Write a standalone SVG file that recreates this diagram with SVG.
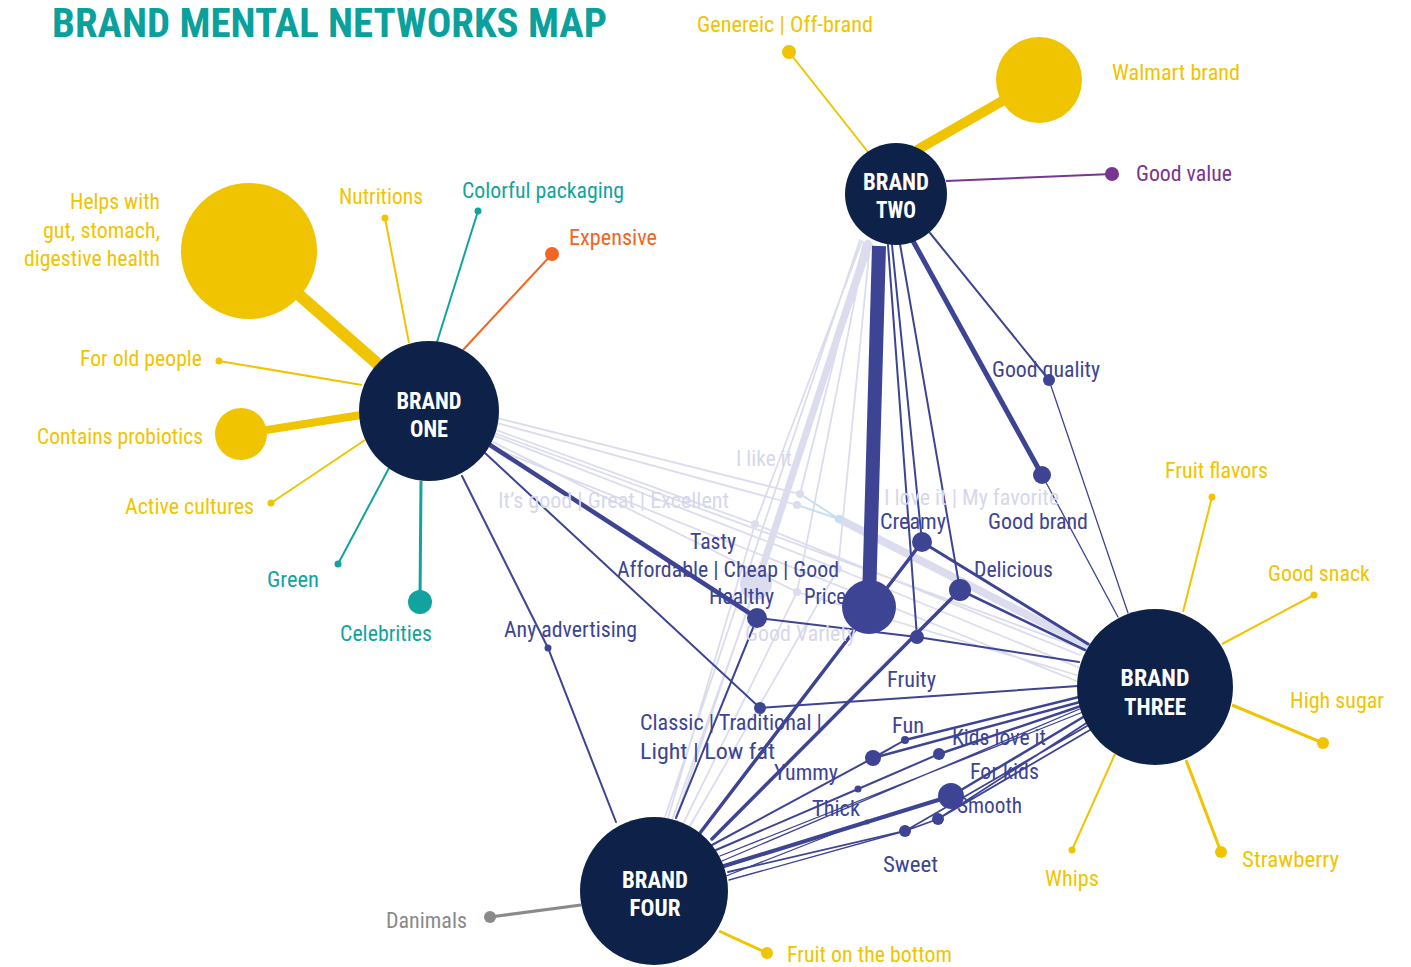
<svg xmlns="http://www.w3.org/2000/svg" width="1411" height="967" viewBox="0 0 1411 967">
<style>
text{font-family:"Liberation Sans Narrow","Roboto Condensed","Liberation Sans",Arial,sans-serif;font-size:22px}
.t{font-size:40px;font-weight:bold;fill:#0aa19c}
.b{font-size:23px;font-weight:bold;fill:#fff;text-anchor:middle}
.y{fill:#f0c400}.tl{fill:#12a39f}.o{fill:#f26522}.p{fill:#7a358f}.g{fill:#8a8a8a}.bl{fill:#3d4494}.lt{fill:#d7d7ec}
.ls{stroke:#dcdcef;fill:none;stroke-linecap:round}
.lb{stroke:#c7dff0;fill:none}
.bs{stroke:#3d4494;fill:none;stroke-linecap:round}
.ys{stroke:#f0c400;fill:none}
.ts{stroke:#12a39f;fill:none}
.nav{fill:#0e2249}
.dot{fill:#3d4494}.ld{fill:#dcdcef}
</style>
<rect width="1411" height="967" fill="#fff"/>
<text class="t" x="52" y="37" textLength="555" lengthAdjust="spacingAndGlyphs">BRAND MENTAL NETWORKS MAP</text>

<g id="connectors">
<g class="ls" stroke-width="1.8">
<path d="M497 418L800 494M497 423L797 505M496 430L755 524L1080 655M495 436L838 569L1080 668M493 442L797 592L1080 676M494 433L1080 648M491 447L1079 682"/>
<path d="M864 242L800 494M862 241L755 524L668 818M866 243L797 592L684 822M870 244L838 569L690 826M872 244L676 818M860 240L664 820M757 584L672 820"/>
<path d="M868 243L757 584" stroke-width="7"/>
<path d="M839 519L1086 645" stroke-width="8"/>
</g>
<path class="lb" stroke-width="2" d="M800 494L839 519M797 505L839 519"/>

<path class="ys" stroke-width="12" d="M380 366L249 251"/>
<path class="ys" stroke-width="2" d="M409 343L385 218M362 385L219 361M365 440L271 503"/>
<path class="ys" stroke-width="8" d="M361 415L241 434"/>
<path class="ts" stroke-width="2" d="M437 342L478 211M389 468L338 564"/>
<path class="ts" stroke-width="3" d="M421 481L420 602"/>
<path stroke="#f26522" stroke-width="2" d="M463 350L552 254"/>
<path class="ys" stroke-width="2" d="M868 152L789 52"/>
<path class="ys" stroke-width="10" d="M917 150L1039 80"/>
<path stroke="#7a358f" stroke-width="2" d="M946 181L1112 174"/>
<path class="ys" stroke-width="2" d="M1183 612L1212 497M1222 644L1314 595M1115 754L1072 850"/>
<path class="ys" stroke-width="3" d="M1232 705L1323 743M1186 760L1221 852M719 931L767 953"/>
<path stroke="#8a8a8a" stroke-width="3" d="M581 905L490 917"/>

<g class="bs">
<path d="M879 246L869 600" stroke-width="14" stroke-linecap="butt"/>
<path stroke-width="2" d="M888 245L917 637M892 245L922 542M900 244L960 590M930 233L1049 380"/>
<path stroke-width="5" d="M913 241L1042 475"/>
<path stroke-width="1.3" d="M1049 380L1128 613M1042 475L1118 617"/>
<path stroke-width="4.5" d="M490 445L757 618"/>
<path stroke-width="2" d="M485 453L760 708L1078 686M462 476L548 648L616 822"/>
<path stroke-width="3" d="M922 542L1088 644"/>
<path stroke-width="2.5" d="M960 590L1085 650"/>
<path stroke-width="2" d="M757 618L917 637L1079 662M757 618L676 818"/>
<path stroke-width="3.5" d="M922 542L700 833M960 590L712 839"/>
<path stroke-width="2" d="M712 845L873 758L905 740M716 850L858 789L939 754"/>
<path stroke-width="2.5" d="M905 740L1079 697M873 758L1080 702M939 754L1081 706M951 796L1085 716"/>
<path stroke-width="1.3" d="M720 856L1083 712M722 861L1082 708M729 880L905 831M726 876L866 821"/>
<path stroke-width="4" d="M724 866L867 822L951 796"/>
<path stroke-width="1.8" d="M728 872L905 831L938 819L1088 722M905 831L1087 726M938 819L1090 730"/>
</g>
</g>

<g id="light-labels">
<text class="lt" x="736" y="466" textLength="56" lengthAdjust="spacingAndGlyphs">I like it</text>
<text class="lt" x="498" y="508" textLength="231" lengthAdjust="spacingAndGlyphs">It’s good | Great | Excellent</text>
<text class="lt" x="884" y="505" textLength="175" lengthAdjust="spacingAndGlyphs">I love it | My favorite</text>
<text class="lt" x="745" y="641" textLength="111" lengthAdjust="spacingAndGlyphs">Good Variety</text>
</g>

<g id="light-dots" class="ld">
<circle cx="800" cy="494" r="4"/><circle cx="797" cy="505" r="4"/><circle cx="755" cy="524" r="4"/>
<circle cx="839" cy="519" r="4" fill="#c7dff0"/><circle cx="838" cy="569" r="4"/><circle cx="797" cy="592" r="4"/>
<circle cx="756" cy="584" r="16"/>
</g>

<g id="attribute-dots" class="dot">
<circle cx="869" cy="607" r="27"/>
<circle cx="1049" cy="380" r="6"/><circle cx="1042" cy="475" r="9"/>
<circle cx="922" cy="542" r="10"/><circle cx="960" cy="590" r="11"/>
<circle cx="917" cy="637" r="7"/><circle cx="757" cy="618" r="10"/>
<circle cx="760" cy="708" r="6"/><circle cx="548" cy="648" r="3.5"/>
<circle cx="905" cy="740" r="4"/><circle cx="873" cy="758" r="8"/>
<circle cx="939" cy="754" r="6"/><circle cx="858" cy="789" r="3.5"/>
<circle cx="951" cy="796" r="13"/><circle cx="938" cy="819" r="6"/>
<circle cx="905" cy="831" r="6"/><circle cx="867" cy="822" r="2.5"/>
</g>

<g id="outer-dots">
<circle cx="249" cy="251" r="68" fill="#f0c400"/>
<circle cx="385" cy="218" r="3.5" fill="#f0c400"/>
<circle cx="478" cy="211" r="3.5" fill="#12a39f"/>
<circle cx="552" cy="254" r="7" fill="#f26522"/>
<circle cx="219" cy="361" r="3.5" fill="#f0c400"/>
<circle cx="241" cy="434" r="26" fill="#f0c400"/>
<circle cx="271" cy="503" r="3.5" fill="#f0c400"/>
<circle cx="338" cy="564" r="3.5" fill="#12a39f"/>
<circle cx="420" cy="602" r="12" fill="#12a39f"/>
<circle cx="789" cy="52" r="7" fill="#f0c400"/>
<circle cx="1039" cy="80" r="43" fill="#f0c400"/>
<circle cx="1112" cy="174" r="7" fill="#7a358f"/>
<circle cx="1212" cy="497" r="3.5" fill="#f0c400"/>
<circle cx="1314" cy="595" r="3.5" fill="#f0c400"/>
<circle cx="1323" cy="743" r="6" fill="#f0c400"/>
<circle cx="1221" cy="852" r="6" fill="#f0c400"/>
<circle cx="1072" cy="850" r="3.5" fill="#f0c400"/>
<circle cx="490" cy="917" r="6" fill="#8a8a8a"/>
<circle cx="767" cy="953" r="6" fill="#f0c400"/>
</g>

<g id="brand-one"><circle class="nav" cx="429" cy="411" r="70"/>
<text class="b" x="429" y="409" textLength="65" lengthAdjust="spacingAndGlyphs">BRAND</text>
<text class="b" x="429" y="437" textLength="38" lengthAdjust="spacingAndGlyphs">ONE</text></g>
<g id="brand-two"><circle class="nav" cx="896" cy="194" r="51"/>
<text class="b" x="896" y="190" textLength="66" lengthAdjust="spacingAndGlyphs">BRAND</text>
<text class="b" x="896" y="218" textLength="40" lengthAdjust="spacingAndGlyphs">TWO</text></g>
<g id="brand-three"><circle class="nav" cx="1155" cy="687" r="78"/>
<text class="b" x="1155" y="686" textLength="69" lengthAdjust="spacingAndGlyphs">BRAND</text>
<text class="b" x="1155" y="715" textLength="62" lengthAdjust="spacingAndGlyphs">THREE</text></g>
<g id="brand-four"><circle class="nav" cx="654" cy="891" r="74"/>
<text class="b" x="655" y="888" textLength="66" lengthAdjust="spacingAndGlyphs">BRAND</text>
<text class="b" x="655" y="916" textLength="51" lengthAdjust="spacingAndGlyphs">FOUR</text></g>

<g id="labels">
<text class="y" x="697" y="32" textLength="176" lengthAdjust="spacingAndGlyphs">Genereic | Off-brand</text>
<text class="y" x="1112" y="80" textLength="128" lengthAdjust="spacingAndGlyphs">Walmart brand</text>
<text class="y" x="70" y="209" textLength="90" lengthAdjust="spacingAndGlyphs">Helps with</text>
<text class="y" x="43" y="238" textLength="117" lengthAdjust="spacingAndGlyphs">gut, stomach,</text>
<text class="y" x="24" y="266" textLength="136" lengthAdjust="spacingAndGlyphs">digestive health</text>
<text class="y" x="339" y="204" textLength="84" lengthAdjust="spacingAndGlyphs">Nutritions</text>
<text class="y" x="80" y="366" textLength="122" lengthAdjust="spacingAndGlyphs">For old people</text>
<text class="y" x="37" y="444" textLength="166" lengthAdjust="spacingAndGlyphs">Contains probiotics</text>
<text class="y" x="125" y="514" textLength="129" lengthAdjust="spacingAndGlyphs">Active cultures</text>
<text class="y" x="1165" y="478" textLength="103" lengthAdjust="spacingAndGlyphs">Fruit flavors</text>
<text class="y" x="1268" y="581" textLength="102" lengthAdjust="spacingAndGlyphs">Good snack</text>
<text class="y" x="1290" y="708" textLength="94" lengthAdjust="spacingAndGlyphs">High sugar</text>
<text class="y" x="1242" y="867" textLength="97" lengthAdjust="spacingAndGlyphs">Strawberry</text>
<text class="y" x="1045" y="886" textLength="54" lengthAdjust="spacingAndGlyphs">Whips</text>
<text class="y" x="787" y="962" font-size="21" textLength="165" lengthAdjust="spacingAndGlyphs">Fruit on the bottom</text>
<text class="tl" x="462" y="198" textLength="162" lengthAdjust="spacingAndGlyphs">Colorful packaging</text>
<text class="tl" x="267" y="587" textLength="52" lengthAdjust="spacingAndGlyphs">Green</text>
<text class="tl" x="340" y="641" textLength="92" lengthAdjust="spacingAndGlyphs">Celebrities</text>
<text class="o" x="569" y="245" textLength="88" lengthAdjust="spacingAndGlyphs">Expensive</text>
<text class="p" x="1136" y="181" textLength="96" lengthAdjust="spacingAndGlyphs">Good value</text>
<text class="g" x="386" y="928" textLength="81" lengthAdjust="spacingAndGlyphs">Danimals</text>
<text class="bl" x="992" y="377" textLength="108" lengthAdjust="spacingAndGlyphs">Good quality</text>
<text class="bl" x="988" y="529" textLength="100" lengthAdjust="spacingAndGlyphs">Good brand</text>
<text class="bl" x="880" y="529" textLength="66" lengthAdjust="spacingAndGlyphs">Creamy</text>
<text class="bl" x="974" y="577" textLength="79" lengthAdjust="spacingAndGlyphs">Delicious</text>
<text class="bl" x="690" y="549" textLength="46" lengthAdjust="spacingAndGlyphs">Tasty</text>
<text class="bl" x="617" y="577" textLength="222" lengthAdjust="spacingAndGlyphs">Affordable | Cheap | Good</text>
<text class="bl" x="709" y="604" textLength="65" lengthAdjust="spacingAndGlyphs">Healthy</text>
<text class="bl" x="804" y="604" textLength="42" lengthAdjust="spacingAndGlyphs">Price</text>
<text class="bl" x="504" y="637" textLength="133" lengthAdjust="spacingAndGlyphs">Any advertising</text>
<text class="bl" x="887" y="687" textLength="49" lengthAdjust="spacingAndGlyphs">Fruity</text>
<text class="bl" x="640" y="730" textLength="182" lengthAdjust="spacingAndGlyphs">Classic | Traditional  |</text>
<text class="bl" x="640" y="759" textLength="135" lengthAdjust="spacingAndGlyphs">Light  |  Low fat</text>
<text class="bl" x="774" y="780" textLength="64" lengthAdjust="spacingAndGlyphs">Yummy</text>
<text class="bl" x="892" y="733" textLength="32" lengthAdjust="spacingAndGlyphs">Fun</text>
<text class="bl" x="952" y="745" textLength="94" lengthAdjust="spacingAndGlyphs">Kids love it</text>
<text class="bl" x="970" y="779" textLength="69" lengthAdjust="spacingAndGlyphs">For kids</text>
<text class="bl" x="957" y="813" textLength="65" lengthAdjust="spacingAndGlyphs">Smooth</text>
<text class="bl" x="812" y="816" textLength="48" lengthAdjust="spacingAndGlyphs">Thick</text>
<text class="bl" x="883" y="872" textLength="55" lengthAdjust="spacingAndGlyphs">Sweet</text>
</g>
</svg>
